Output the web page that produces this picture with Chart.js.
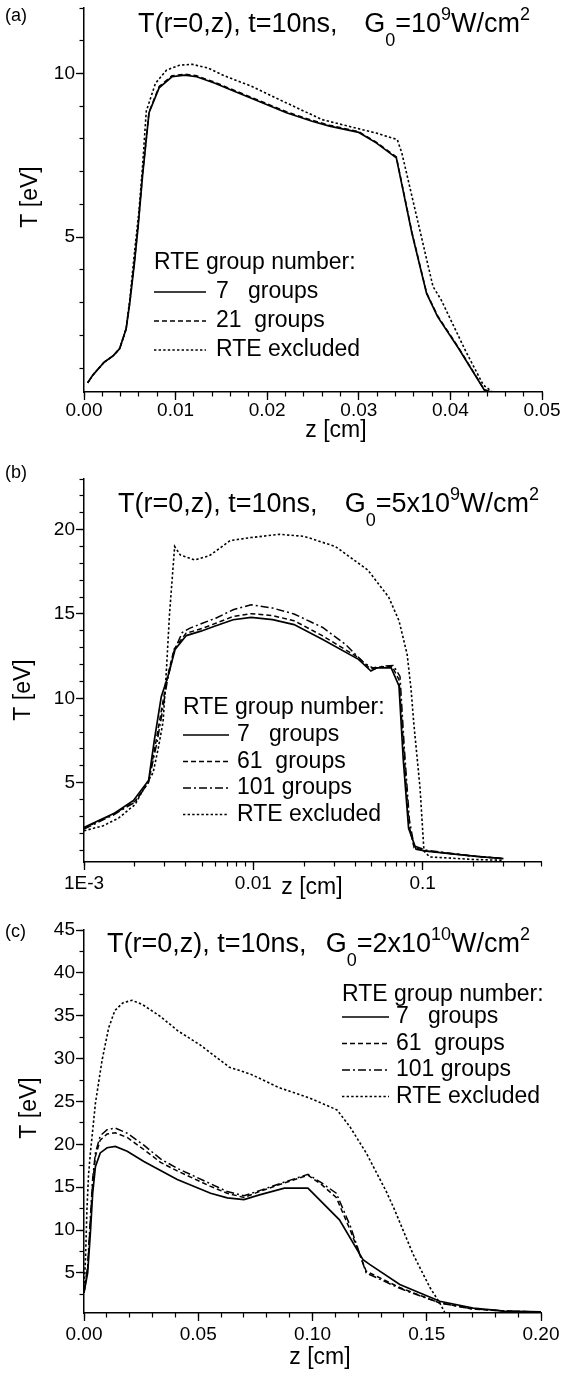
<!DOCTYPE html>
<html>
<head>
<meta charset="utf-8">
<script src="https://cdn.jsdelivr.net/npm/chart.js@4.4.0/dist/chart.umd.min.js"></script>
<style>
  body { margin: 0; background: #fff; }
  #wrap { position: relative; width: 563px; height: 1390px; }
  canvas { position: absolute; left: 0; }
</style>
</head>
<body>
<div id="wrap">
  <canvas id="pa" width="563" height="460" style="top:0px"></canvas>
  <canvas id="pb" width="563" height="460" style="top:460px"></canvas>
  <canvas id="pc" width="563" height="470" style="top:920px"></canvas>
</div>
<script>
// ---- tick values / labels ----
const xTicksA = [0, 0.01, 0.02, 0.03, 0.04, 0.05];
const yTicksA = [5, 10];
const xTicksB = [0.001, 0.01, 0.1];
const xLabelsB = ["1E-3", "0.01", "0.1"];
const yTicksB = [5, 10, 15, 20];
const xTicksC = [0, 0.05, 0.1, 0.15, 0.2];
const yTicksC = [5, 10, 15, 20, 25, 30, 35, 40, 45];

// ---- (a) G0 = 1e9 W/cm2, [z cm, T eV] ----
const a7 = [[0.0004,0.55],[0.001,0.8],[0.0022,1.18],[0.0032,1.38],[0.0039,1.6],[0.0046,2.2],[0.005,3.0],[0.0055,4.2],[0.0059,5.3],[0.0064,6.9],[0.0071,8.8],[0.0082,9.56],[0.0096,9.9],[0.011,9.95],[0.0123,9.9],[0.0143,9.7],[0.016,9.5],[0.0182,9.25],[0.0221,8.8],[0.0249,8.54],[0.0268,8.39],[0.03,8.2],[0.0319,7.88],[0.0341,7.42],[0.0358,5.12],[0.0374,3.28],[0.0386,2.57],[0.0409,1.6],[0.0437,0.33],[0.0445,0.27],[0.05,0.27]];
const a21 = [[0.0004,0.55],[0.001,0.8],[0.0022,1.18],[0.0032,1.38],[0.0039,1.6],[0.0046,2.2],[0.005,3.0],[0.0055,4.25],[0.0059,5.35],[0.0064,6.95],[0.0071,8.82],[0.0082,9.6],[0.0096,9.93],[0.011,9.98],[0.0123,9.93],[0.0143,9.73],[0.016,9.53],[0.0182,9.28],[0.0221,8.83],[0.0249,8.57],[0.0268,8.42],[0.03,8.22],[0.0319,7.9],[0.0341,7.45],[0.0358,5.15],[0.0374,3.3],[0.0386,2.6],[0.0409,1.62],[0.0437,0.34],[0.0445,0.27],[0.05,0.27]];
const aEx = [[0.0004,0.55],[0.001,0.8],[0.0022,1.18],[0.0032,1.38],[0.0039,1.6],[0.0046,2.2],[0.005,3.1],[0.0055,4.5],[0.006,5.8],[0.0064,7.2],[0.0068,8.85],[0.0078,9.7],[0.009,10.1],[0.0104,10.25],[0.0118,10.28],[0.0135,10.17],[0.0154,9.92],[0.0182,9.62],[0.0221,9.1],[0.026,8.59],[0.03,8.31],[0.0319,8.18],[0.0342,7.98],[0.0347,7.57],[0.0381,3.49],[0.039,3.08],[0.0417,1.5],[0.0436,0.48],[0.0446,0.27],[0.05,0.27]];

// ---- (b) G0 = 5e9 W/cm2 ----
const b7 = [[0.001,2.35],[0.00152,3.2],[0.00196,3.95],[0.00241,5.15],[0.0026,7.5],[0.00286,10.1],[0.00313,11.3],[0.00345,12.9],[0.00402,13.72],[0.0049,13.98],[0.0059,14.27],[0.0076,14.66],[0.0097,14.8],[0.013,14.66],[0.0174,14.37],[0.0257,13.49],[0.0418,12.31],[0.0495,11.62],[0.0533,11.8],[0.0652,11.8],[0.0725,10.74],[0.0768,6.4],[0.0826,2.3],[0.0915,1.05],[0.105,0.95],[0.2,0.65],[0.3,0.5]];
const b61 = [[0.001,2.3],[0.0015,3.15],[0.002,3.9],[0.0024,5.0],[0.0027,7.8],[0.0029,9.6],[0.0031,11.2],[0.0034,12.9],[0.004,13.85],[0.005,14.15],[0.006,14.45],[0.0076,14.85],[0.0097,15.02],[0.013,14.9],[0.0174,14.6],[0.0257,13.7],[0.042,12.4],[0.049,11.75],[0.053,11.85],[0.066,11.9],[0.0725,11.1],[0.0775,6.8],[0.083,2.5],[0.089,1.15],[0.105,0.95],[0.2,0.65],[0.3,0.5]];
const b101 = [[0.001,2.25],[0.0015,3.1],[0.002,3.85],[0.0024,5.0],[0.0027,7.4],[0.0029,9.2],[0.0031,11.0],[0.0034,12.8],[0.0038,13.9],[0.0042,14.15],[0.005,14.45],[0.006,14.75],[0.0076,15.25],[0.0097,15.55],[0.013,15.35],[0.0174,15.0],[0.0257,14.2],[0.035,13.2],[0.045,12.1],[0.052,11.75],[0.058,11.9],[0.067,11.95],[0.0735,11.3],[0.078,7.0],[0.0835,2.8],[0.089,1.25],[0.105,1.0],[0.2,0.65],[0.3,0.5]];
const bEx = [[0.001,2.15],[0.0013,2.45],[0.0016,2.9],[0.002,3.7],[0.00233,4.9],[0.00256,5.6],[0.00274,7.0],[0.00293,8.6],[0.00306,11.5],[0.0032,15.0],[0.00343,19.0],[0.0037,18.5],[0.0045,18.2],[0.0055,18.45],[0.0073,19.35],[0.0097,19.53],[0.0143,19.72],[0.02,19.6],[0.0305,19.0],[0.0475,17.6],[0.063,16.0],[0.0725,14.6],[0.081,12.6],[0.0855,10.5],[0.0885,8.6],[0.0965,4.7],[0.1018,0.95],[0.11,0.6],[0.2,0.45],[0.3,0.4]];

// ---- (c) G0 = 2e10 W/cm2 ----
const c7 = [[0,2.7],[0.0016,5.0],[0.0028,9.7],[0.0038,14.3],[0.005,17.4],[0.0071,19.0],[0.0101,19.6],[0.0137,19.75],[0.0189,19.2],[0.0262,18.0],[0.0408,15.9],[0.0554,14.3],[0.0627,13.75],[0.07,13.55],[0.0768,14.1],[0.0877,14.9],[0.098,14.9],[0.1118,11.2],[0.1221,6.55],[0.125,6.0],[0.1382,3.65],[0.1557,1.7],[0.1703,0.9],[0.184,0.55],[0.2,0.45]];
const c61 = [[0,2.7],[0.0016,5.5],[0.0028,11],[0.0038,15.5],[0.005,18.6],[0.0071,20.5],[0.0101,21.2],[0.0137,21.35],[0.0189,20.8],[0.0262,19.4],[0.0335,17.9],[0.0408,16.9],[0.0554,15.1],[0.0627,14.3],[0.07,13.8],[0.0768,14.5],[0.0877,15.5],[0.098,16.4],[0.104,15.3],[0.1104,13.8],[0.1165,10.0],[0.1235,5.2],[0.1382,3.3],[0.1557,1.5],[0.17,0.8],[0.185,0.55],[0.2,0.45]];
const c101 = [[0,2.7],[0.0016,5.8],[0.0028,11.5],[0.0038,16.0],[0.005,19.0],[0.0071,21.0],[0.0101,21.7],[0.0137,21.9],[0.0189,21.3],[0.0262,19.9],[0.0335,18.3],[0.0408,17.2],[0.0554,15.4],[0.0627,14.5],[0.07,14.0],[0.0768,14.6],[0.0877,15.6],[0.098,16.5],[0.104,15.5],[0.1104,14.3],[0.1165,10.5],[0.1235,5.0],[0.1382,3.2],[0.1557,1.5],[0.17,0.8],[0.185,0.55],[0.2,0.45]];
const cEx = [[0,2.7],[0.0007,7.0],[0.0013,12.5],[0.002,16.5],[0.0028,19.0],[0.005,24.8],[0.0079,29.8],[0.0108,33.6],[0.0135,35.6],[0.017,36.5],[0.021,36.8],[0.0256,36.3],[0.033,35.0],[0.0413,33.2],[0.0508,31.6],[0.0636,29.0],[0.0728,28.2],[0.0855,26.6],[0.0987,25.4],[0.1075,24.4],[0.1108,24.0],[0.1165,22.0],[0.1235,19.0],[0.1323,14.5],[0.1357,12.5],[0.144,7.2],[0.1514,3.3],[0.1557,1.5],[0.158,0.33],[0.2,0.33]];

const FONT = '"Liberation Sans", Arial, Helvetica, sans-serif';
Chart.defaults.font.family = FONT;
Chart.defaults.color = "#000";

const SOLID = [], DASH = [5, 3], DASHDOT = [8, 3, 2, 3], DOT = [2.4, 2.2];

function range(a, b, step) {
  const out = [];
  for (let i = 0; a + i * step <= b + 1e-9; i++) out.push(Math.round((a + i * step) * 1e6) / 1e6);
  return out;
}
function logMinor(lo, hi) {
  const out = [];
  for (let e = -3; e <= 0; e++)
    for (let k = 1; k <= 9; k++) {
      const v = +(k * Math.pow(10, e)).toPrecision(3);
      if (v >= lo - 1e-12 && v <= hi + 1e-12) out.push(v);
    }
  return out;
}
const useTicks = vals => s => { s.ticks = vals.map(v => ({ value: v })); };

function series(label, pts, dash, w) {
  return { label, pts, dash, w };
}

const panels = [
  {
    id: "pa", letter: "(a)", letterY: 16,
    titleX: 138, titleY: 32, titleEnd: 530,
    titleParts: [["G", 0], ["0", 1], ["=10", 0], ["9", -1], ["W/cm", 0], ["2", -1]],
    pad: { left: 24, right: 21, top: 8, bottom: 0 }, xBand: 68,
    xType: "linear", xMin: 0, xMax: 0.05, xMajor: xTicksA, xMinor: range(0, 0.05, 0.002),
    xFmt: v => v.toFixed(2), xPad: -1,
    yMin: 0.27, yMax: 12, yMajor: yTicksA, yMinor: range(1, 12, 1),
    zX: 336, zY: 431, tX: 31, tY: 197,
    legend: { x: 154, y: 263, first: 29, step: 29, len: 52, textX: 216 },
    series: [
      series("7   groups", a7, SOLID, 1.7),
      series("21  groups", a21, DASH, 1.5),
      series("RTE excluded", aEx, DOT, 1.6),
    ],
  },
  {
    id: "pb", letter: "(b)", letterY: 13,
    titleX: 118, titleY: 52, titleEnd: 539,
    titleParts: [["G", 0], ["0", 1], ["=5x10", 0], ["9", -1], ["W/cm", 0], ["2", -1]],
    pad: { left: 24, right: 22, top: 19, bottom: 0 }, xBand: 58,
    xType: "logarithmic", xMin: 0.001, xMax: 0.5, xMajor: xTicksB, xMinor: logMinor(0.001, 0.5),
    xFmt: v => xLabelsB[xTicksB.findIndex(t => Math.abs(t - v) < v * 1e-6)] || "", xPad: 2,
    yMin: 0.3, yMax: 23, yMajor: yTicksB, yMinor: range(1, 23, 1),
    zX: 312, zY: 428, tX: 24, tY: 230,
    legend: { x: 183, y: 248, first: 27, step: 26.5, len: 46, textX: 237 },
    series: [
      series("7   groups", b7, SOLID, 1.7),
      series("61  groups", b61, DASH, 1.5),
      series("101 groups", b101, DASHDOT, 1.5),
      series("RTE excluded", bEx, DOT, 1.6),
    ],
  },
  {
    id: "pc", letter: "(c)", letterY: 12,
    titleX: 107, titleY: 32, titleEnd: 530,
    titleParts: [["G", 0], ["0", 1], ["=2x10", 0], ["10", -1], ["W/cm", 0], ["2", -1]],
    pad: { left: 25, right: 22, top: 10, bottom: 0 }, xBand: 77,
    xType: "linear", xMin: 0, xMax: 0.2, xMajor: xTicksC, xMinor: range(0, 0.2, 0.01),
    xFmt: v => v.toFixed(2), xPad: 2,
    yMin: 0.33, yMax: 45, yMajor: yTicksC, yMinor: range(2.5, 45, 2.5),
    zX: 320, zY: 438, tX: 30, tY: 188,
    legend: { x: 342, y: 75, first: 22, step: 26.5, len: 47, textX: 396 },
    series: [
      series("7   groups", c7, SOLID, 1.7),
      series("61  groups", c61, DASH, 1.5),
      series("101 groups", c101, DASHDOT, 1.5),
      series("RTE excluded", cEx, DOT, 1.6),
    ],
  },
];

function buildScales(p) {
  const minorGrid = { drawOnChartArea: false, tickLength: 4.5, tickWidth: 1.2, tickColor: "#000" };
  const majorGrid = { drawOnChartArea: false, tickLength: 8, tickWidth: 1.3, tickColor: "#000" };
  return {
    x: {
      type: p.xType, position: "bottom", weight: 1, min: p.xMin, max: p.xMax,
      afterBuildTicks: useTicks(p.xMajor),
      afterFit: s => { s.height = p.xBand; s.paddingLeft = 0; s.paddingRight = 0; },
      grid: majorGrid,
      border: { color: "#000", width: 1.5 },
      ticks: { autoSkip: false, maxRotation: 0, padding: p.xPad, color: "#000", font: { size: 19 }, callback: p.xFmt },
    },
    x2: {
      type: p.xType, position: "bottom", weight: 0, min: p.xMin, max: p.xMax,
      afterBuildTicks: useTicks(p.xMinor),
      afterFit: s => { s.height = 0; s.paddingLeft = 0; s.paddingRight = 0; },
      grid: minorGrid, border: { display: false }, ticks: { display: false },
    },
    y: {
      type: "linear", position: "left", weight: 1, min: p.yMin, max: p.yMax,
      afterBuildTicks: useTicks(p.yMajor),
      afterFit: s => { s.width = 84 - p.pad.left; s.paddingTop = 0; s.paddingBottom = 0; },
      grid: majorGrid,
      border: { color: "#000", width: 1.5 },
      ticks: { autoSkip: false, padding: 1, color: "#000", font: { size: 19 }, callback: v => String(v) },
    },
    y2: {
      type: "linear", position: "left", weight: 0, min: p.yMin, max: p.yMax,
      afterBuildTicks: useTicks(p.yMinor),
      afterFit: s => { s.width = 0; s.paddingTop = 0; s.paddingBottom = 0; },
      grid: minorGrid, border: { display: false }, ticks: { display: false },
    },
  };
}

function put(ctx, str, x, y, size, align, base) {
  ctx.font = size + "px " + FONT;
  ctx.textAlign = align;
  ctx.textBaseline = base;
  ctx.fillText(str, x, y);
}

// heading text with G0 subscript and power superscripts
function drawTitle(ctx, p) {
  const main = 27, small = 18;
  put(ctx, "T(r=0,z), t=10ns,", p.titleX, p.titleY, main, "left", "alphabetic");
  let w = 0;
  p.titleParts.forEach(([s, k]) => {
    ctx.font = (k ? small : main) + "px " + FONT;
    w += ctx.measureText(s).width;
  });
  let x = p.titleEnd - w;
  p.titleParts.forEach(([s, k]) => {
    const dy = k === 1 ? 14 : k === -1 ? -12 : 0;
    put(ctx, s, x, p.titleY + dy, k ? small : main, "left", "alphabetic");
    x += ctx.measureText(s).width;
  });
}

function drawLegend(ctx, chart, L) {
  put(ctx, "RTE group number:", L.x, L.y, 23, "left", "middle");
  chart.data.datasets.forEach((ds, i) => {
    const y = L.y + L.first + i * L.step;
    ctx.save();
    ctx.strokeStyle = "#000";
    ctx.lineWidth = ds.borderWidth;
    ctx.setLineDash(ds.borderDash || []);
    ctx.beginPath();
    ctx.moveTo(L.x, y);
    ctx.lineTo(L.x + L.len, y);
    ctx.stroke();
    ctx.restore();
    put(ctx, ds.label, L.textX, y, 23, "left", "middle");
  });
}

function notes(p) {
  return {
    id: "notes",
    afterDraw(chart) {
      const ctx = chart.ctx;
      ctx.save();
      ctx.fillStyle = "#000";
      put(ctx, p.letter, 5, p.letterY, 18, "left", "middle");
      drawTitle(ctx, p);
      put(ctx, "z [cm]", p.zX, p.zY, 23, "center", "middle");
      ctx.save();
      ctx.translate(p.tX, p.tY);
      ctx.rotate(-Math.PI / 2);
      put(ctx, "T [eV]", 0, 0, 23, "center", "middle");
      ctx.restore();
      drawLegend(ctx, chart, p.legend);
      ctx.restore();
    },
  };
}

panels.forEach(p => {
  new Chart(document.getElementById(p.id), {
    type: "line",
    data: {
      datasets: p.series.map(s => ({
        label: s.label,
        data: s.pts.map(([x, y]) => ({ x, y })),
        xAxisID: "x",
        yAxisID: "y",
        borderColor: "#000",
        borderWidth: s.w,
        borderDash: s.dash,
        pointRadius: 0,
        tension: 0,
        fill: false,
      })),
    },
    options: {
      responsive: false,
      animation: false,
      events: [],
      layout: { padding: p.pad },
      scales: buildScales(p),
      plugins: { legend: { display: false }, tooltip: { enabled: false } },
    },
    plugins: [notes(p)],
  });
});
</script>
</body>
</html>
